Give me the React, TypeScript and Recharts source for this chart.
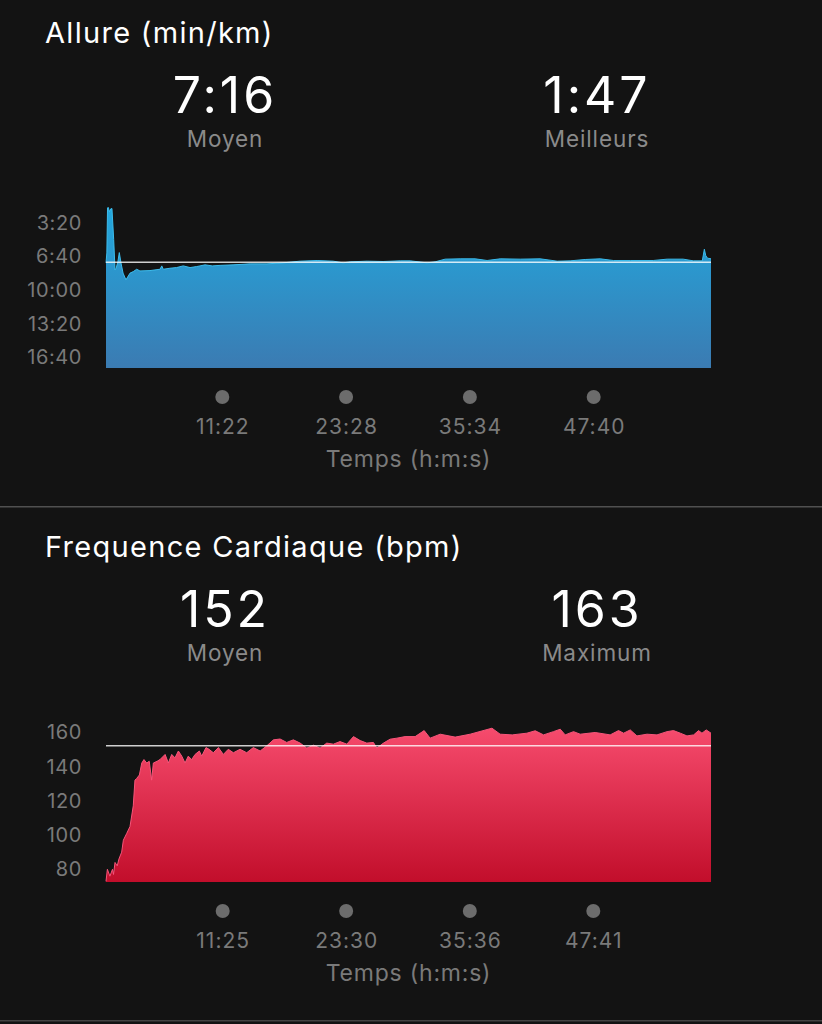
import { AreaChart, Area, XAxis, YAxis, ReferenceLine } from 'recharts';

const FONT = 'Inter, "Noto Sans", sans-serif';
const BG = '#131313';

// Allure : temps écoulé (s) et allure (s/km)
const paceTimes = [
  0, 5, 9, 14, 20, 28, 35, 45, 53, 60,
  70, 78, 88, 100, 117, 141, 160, 180, 199, 258,
  317, 327, 336, 375, 414, 453, 493, 532, 551, 581,
  623, 669, 745, 845, 944, 1038, 1138, 1238, 1332, 1391,
  1432, 1531, 1625, 1725, 1784, 1883, 1930, 1989, 2077, 2165,
  2235, 2312, 2429, 2546, 2646, 2722, 2810, 2898, 2975, 3074,
  3209, 3291, 3385, 3444, 3497, 3509, 3517, 3527, 3548,
];
const paceValues = [
  440, 380, 112, 110, 135, 118, 116, 300, 481, 470,
  430, 378, 440, 500, 540, 500, 491, 477, 487, 485,
  477, 457, 477, 471, 467, 457, 467, 461, 457, 451,
  457, 454, 451, 445, 445, 439, 429, 425, 429, 439,
  433, 429, 431, 427, 427, 439, 433, 417, 415, 415,
  425, 415, 417, 415, 429, 427, 419, 415, 425, 425,
  425, 417, 417, 427, 427, 358, 395, 411, 415,
];
const paceTicks = [200, 400, 600, 800, 1000];
const paceTimeTicks = [682, 1408, 2134, 2860];
const paceAvg = 436; // 7:16
const paceBest = 107; // 1:47

// Fréquence cardiaque : temps écoulé (s) et bpm
const hrTimes = [
  0, 8, 23, 38, 44, 53, 66, 76, 92, 102,
  122, 141, 160, 170, 180, 196, 210, 223, 239, 254,
  268, 278, 300, 317, 347, 366, 386, 405, 425, 445,
  464, 483, 503, 523, 548, 562, 587, 605, 630, 660,
  689, 718, 748, 787, 826, 865, 905, 944, 983, 1022,
  1061, 1100, 1140, 1179, 1218, 1257, 1296, 1335, 1374, 1414,
  1453, 1492, 1531, 1570, 1590, 1629, 1668, 1708, 1756, 1815,
  1868, 1903, 1962, 2050, 2138, 2266, 2314, 2385, 2471, 2520,
  2569, 2627, 2667, 2696, 2745, 2784, 2872, 2960, 3009, 3039,
  3078, 3117, 3176, 3235, 3294, 3332, 3372, 3411, 3450, 3479,
  3499, 3524, 3552,
];
const hrValues = [
  73, 80, 76, 80, 77, 84, 82, 86, 90, 97,
  101, 105, 117, 132, 133, 135, 142, 144, 142, 143,
  132, 142, 143, 144, 147, 142, 147, 145, 149, 146,
  142, 146, 144, 147, 149, 146, 151, 150, 148, 151,
  147, 150, 148, 150, 148, 151, 149, 152, 155.5, 156,
  154, 155.5, 153.6, 150.7, 152.4, 150.7, 153.6, 153, 154.5, 153,
  157.4, 155.1, 153.6, 154, 150.7, 153.6, 155.9, 156.5, 157.4, 157.4,
  160.9, 156.5, 158.8, 157.1, 158.8, 162.3, 158.8, 158.4, 159.4, 160.8,
  158.4, 160.3, 161.7, 158.4, 160.3, 158.8, 159.8, 158.4, 160.9, 159.4,
  161.3, 157.8, 158.8, 158.4, 160.3, 160.9, 159.4, 157.8, 158.4, 160.9,
  159.4, 161.3, 159.4,
];
const hrTicks = [80, 100, 120, 140, 160];
const hrTimeTicks = [685, 1410, 2136, 2861];
const hrAvg = 152;
const hrMax = 163;

const paceData = paceTimes.map((t, i) => ({ t, v: paceValues[i] }));
const hrData = hrTimes.map((t, i) => ({ t, v: hrValues[i] }));

const fmtTime = (s: number) => `${Math.floor(s / 60)}:${String(Math.round(s % 60)).padStart(2, '0')}`;

function TimeTick({ x, y, payload }: any) {
  return (
    <g>
      <circle cx={x} cy={y + 29} r={7} fill="#6c6c6c" />
      <text x={x + 0.5} y={y + 66} textAnchor="middle" fill="#7a7a7a" fontSize={21} letterSpacing={1} fontFamily={FONT}>
        {fmtTime(payload.value)}
      </text>
    </g>
  );
}

function AxisTitle({ viewBox }: any) {
  if (!viewBox) return null;
  return (
    <text
      x={viewBox.x + viewBox.width / 2}
      y={viewBox.y + 99}
      textAnchor="middle"
      fill="#7a7a7a"
      fontSize={23}
      letterSpacing={0.8}
      fontFamily={FONT}
    >
      Temps (h:m:s)
    </text>
  );
}

interface PanelProps {
  id: string;
  data: { t: number; v: number }[];
  top: number;
  marginTop: number;
  xMax: number;
  timeTicks: number[];
  yDomain: [number, number];
  yTicks: number[];
  yFormat: (v: number) => string;
  reversed?: boolean;
  avg: number;
  colors: [string, string];
  stroke: string;
}

function Panel(p: PanelProps) {
  return (
    <div style={{ position: 'absolute', left: 0, top: p.top }}>
      <AreaChart width={822} height={290} data={p.data} margin={{ top: p.marginTop, right: 111, bottom: 0, left: 46 }}>
        <defs>
          <linearGradient id={p.id} x1="0" y1="0" x2="0" y2="1">
            <stop offset="0%" stopColor={p.colors[0]} />
            <stop offset="100%" stopColor={p.colors[1]} />
          </linearGradient>
        </defs>
        <XAxis
          dataKey="t"
          type="number"
          domain={[0, p.xMax]}
          ticks={p.timeTicks}
          interval={0}
          height={112}
          tickSize={0}
          tickMargin={0}
          axisLine={false}
          tickLine={false}
          tick={<TimeTick />}
          label={{ content: <AxisTitle /> }}
        />
        <YAxis
          type="number"
          domain={p.yDomain}
          allowDataOverflow
          reversed={p.reversed}
          ticks={p.yTicks}
          interval={0}
          width={60}
          tickSize={0}
          tickMargin={24}
          axisLine={false}
          tickLine={false}
          tickFormatter={p.yFormat}
          tick={{ fill: '#7a7a7a', fontSize: 20, letterSpacing: 0.6, fontFamily: FONT }}
        />
        <Area
          type="linear"
          dataKey="v"
          stroke={p.stroke}
          strokeWidth={1}
          fill={`url(#${p.id})`}
          fillOpacity={1}
          baseValue={p.reversed ? p.yDomain[1] : p.yDomain[0]}
          dot={false}
          activeDot={false}
          isAnimationActive={false}
        />
        <ReferenceLine y={p.avg} stroke="rgba(255,255,255,0.8)" strokeWidth={1.5} />
      </AreaChart>
    </div>
  );
}

function Header({ y, title, left, leftLabel, right, rightLabel }: any) {
  return (
    <g fontFamily={FONT}>
      <text x={45} y={y + 42.7} fill="#ffffff" fontSize={29} letterSpacing={1.3}>{title}</text>
      <text x={225} y={y + 112.5} textAnchor="middle" fill="#ffffff" fontSize={50} letterSpacing={3}>{left}</text>
      <text x={597} y={y + 112.5} textAnchor="middle" fill="#ffffff" fontSize={50} letterSpacing={3}>{right}</text>
      <text x={225} y={y + 146.5} textAnchor="middle" fill="#8a8a8a" fontSize={22.5} letterSpacing={0.9}>{leftLabel}</text>
      <text x={597} y={y + 146.5} textAnchor="middle" fill="#8a8a8a" fontSize={22.5} letterSpacing={0.9}>{rightLabel}</text>
    </g>
  );
}

export default function App() {
  return (
    <div style={{ position: 'absolute', left: 0, top: 0, width: 822, height: 1024, background: BG, overflow: 'hidden' }}>
      <svg width={822} height={1024} style={{ position: 'absolute', left: 0, top: 0 }}>
        <Header y={0} title="Allure (min/km)" left={fmtTime(paceAvg)} leftLabel="Moyen" right={fmtTime(paceBest)} rightLabel="Meilleurs" />
        <Header y={514.5} title="Frequence Cardiaque (bpm)" left={String(hrAvg)} leftLabel="Moyen" right={String(hrMax)} rightLabel="Maximum" />
        <rect x={0} y={506} width={822} height={1.5} fill="#505050" />
        <rect x={0} y={1020} width={822} height={1.5} fill="#444444" />
      </svg>
      <Panel
        id="paceFill"
        data={paceData}
        top={190}
        marginTop={17}
        xMax={3548}
        timeTicks={paceTimeTicks}
        yDomain={[paceBest, 1064]}
        yTicks={paceTicks}
        yFormat={fmtTime}
        reversed
        avg={paceAvg}
        colors={['#22a8de', '#3b7bb2']}
        stroke="#3cbcec"
      />
      <Panel
        id="hrFill"
        data={hrData}
        top={704}
        marginTop={23}
        xMax={3552}
        timeTicks={hrTimeTicks}
        yDomain={[72.6, hrMax]}
        yTicks={hrTicks}
        yFormat={(v: number) => String(v)}
        avg={hrAvg}
        colors={['#f64b6d', '#c20e2b']}
        stroke="#f7557a"
      />
    </div>
  );
}
